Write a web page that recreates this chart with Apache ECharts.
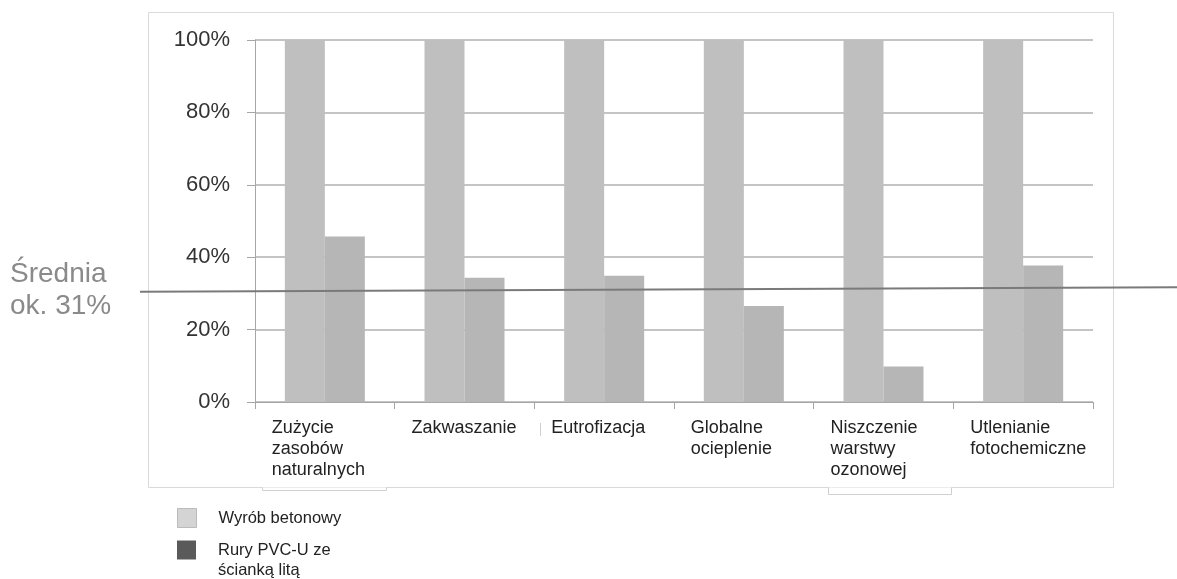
<!DOCTYPE html>
<html>
<head>
<meta charset="utf-8">
<script src="https://cdn.jsdelivr.net/npm/echarts@6/dist/echarts.min.js"></script>
<style>
  html, body { margin: 0; padding: 0; background: #fff; }
  #chart { width: 1177px; height: 579px; }
</style>
</head>
<body>
<div id="chart"></div>
<script>
const categories = [
  'Zużycie\nzasobów\nnaturalnych',
  'Zakwaszanie',
  'Eutrofizacja',
  'Globalne\nocieplenie',
  'Niszczenie\nwarstwy\nozonowej',
  'Utlenianie\nfotochemiczne'
]
const betonValues = [100, 100, 100, 100, 100, 100]
const pvcValues = [45.7, 34.3, 34.9, 26.5, 9.8, 37.7]
const seriesNames = ['Wyrób betonowy', 'Rury PVC-U ze\nścianką litą']
// average line, value at left and right edge of the plot (drawn slightly tilted)
const avgStart = 30.6
const avgEnd = 31.6
const avgLabel = 'Średnia\nok. 31%'

const font = 'Liberation Sans, Arial, sans-serif'
const gridLeft = 255, gridRight = 84, gridTop = 40, gridBottom = 177

const chart = echarts.init(document.getElementById('chart'))

const option = {
  animation: false,
  backgroundColor: '#fff',
  grid: { left: gridLeft, right: gridRight, top: gridTop, bottom: gridBottom },
  xAxis: {
    type: 'category',
    data: categories,
    axisLine: { lineStyle: { color: '#a6a6a6', width: 1 } },
    axisTick: { show: true, length: 7, lineStyle: { color: '#a6a6a6' } },
    axisLabel: {
      interval: 0,
      margin: 16,
      align: 'center',
      formatter: v => v.split('\n').map(l => '{a|' + l + '}').join('\n'),
      rich: {
        a: { width: 106, align: 'left', fontSize: 18, lineHeight: 21, color: '#222', fontFamily: font }
      }
    }
  },
  yAxis: {
    type: 'value',
    min: 0,
    max: 100,
    interval: 20,
    axisLine: { show: true, lineStyle: { color: '#a6a6a6', width: 1 } },
    axisTick: { show: true, length: 8, lineStyle: { color: '#a6a6a6' } },
    axisLabel: { formatter: '{value}%', fontSize: 22, color: '#333', fontFamily: font, margin: 25 },
    splitLine: { lineStyle: { color: '#c4c4c4', width: 2 } }
  },
  legend: [
    {
      left: 177, top: 508, orient: 'vertical', padding: 0,
      icon: 'rect', itemWidth: 19, itemHeight: 19, selectedMode: false,
      textStyle: { fontSize: 16.5, color: '#222', fontFamily: font, padding: [0, 0, 0, 17] },
      data: [{ name: seriesNames[0], itemStyle: { color: '#d4d4d4', borderColor: '#bbbbbb', borderWidth: 1 } }]
    },
    {
      left: 177, top: 520, orient: 'vertical', padding: 0,
      icon: 'rect', itemWidth: 19, itemHeight: 19, selectedMode: false,
      // leading blank line keeps the first text line level with the marker
      formatter: name => '\n' + name,
      textStyle: { fontSize: 16.5, lineHeight: 20, color: '#222', fontFamily: font, padding: [0, 0, 0, 17] },
      data: [{ name: seriesNames[1], itemStyle: { color: '#5a5a5a', borderWidth: 0 } }]
    }
  ],
  series: [
    {
      name: seriesNames[0],
      type: 'bar',
      data: betonValues,
      barWidth: 40,
      barGap: '0%',
      itemStyle: { color: '#bfbfbf' }
    },
    {
      name: seriesNames[1],
      type: 'bar',
      data: pvcValues,
      barWidth: 40,
      itemStyle: { color: '#b6b6b6' }
    }
  ]
}
chart.setOption(option)

// frame, average line and its label
const plotRight = 1177 - gridRight
const y0 = chart.convertToPixel({ yAxisIndex: 0 }, avgStart)
const y1 = chart.convertToPixel({ yAxisIndex: 0 }, avgEnd)
const slope = (y1 - y0) / (plotRight - gridLeft)
const lineX0 = 140, lineX1 = 1177
chart.setOption({
  graphic: [
    {
      type: 'rect', z: -1, silent: true,
      shape: { x: 148.5, y: 12.5, width: 965, height: 475 },
      style: { fill: null, stroke: '#d9d9d9', lineWidth: 1 }
    },
    {
      type: 'polyline', silent: true,
      shape: { points: [[262.5, 487.5], [262.5, 490.5], [386.5, 490.5], [386.5, 487.5]] },
      style: { fill: '#fff', stroke: '#d0d0d0', lineWidth: 1 }
    },
    {
      type: 'polyline', silent: true,
      shape: { points: [[828.5, 487.5], [828.5, 494.5], [951.5, 494.5], [951.5, 487.5]] },
      style: { fill: '#fff', stroke: '#d0d0d0', lineWidth: 1 }
    },
    {
      type: 'line', silent: true,
      shape: { x1: 540.5, y1: 423, x2: 540.5, y2: 436 },
      style: { stroke: '#d0d0d0', lineWidth: 1 }
    },
    {
      type: 'line', silent: true, z: 10,
      shape: {
        x1: lineX0, y1: y0 + slope * (lineX0 - gridLeft),
        x2: lineX1, y2: y0 + slope * (lineX1 - gridLeft)
      },
      style: { stroke: '#7a7a7a', lineWidth: 2 }
    },
    {
      type: 'text', silent: true,
      left: 10, top: 258,
      style: { text: avgLabel, fontSize: 28, lineHeight: 32, fill: '#8a8a8a', fontFamily: font }
    }
  ]
})
</script>
</body>
</html>
